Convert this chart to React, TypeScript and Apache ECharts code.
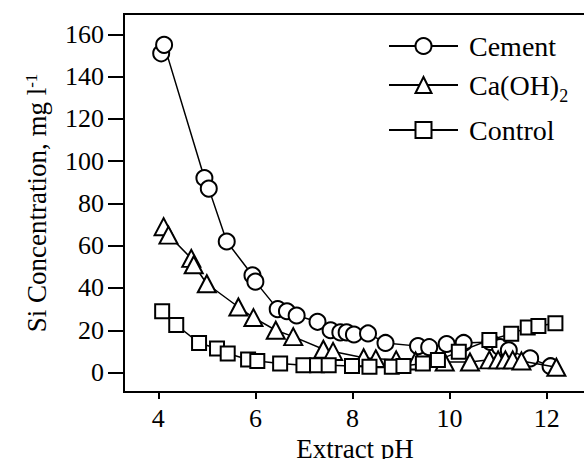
import React, { useEffect, useRef } from "react";
import * as echarts from "echarts";

// Extract pH and Si concentration (mg l-1) for each treatment
const cementPH = [4.06, 4.12, 4.95, 5.04, 5.41, 5.94, 6.0, 6.46, 6.65, 6.85, 7.28, 7.55, 7.75, 7.88, 8.03, 8.32, 8.68, 9.35, 9.58, 9.94, 10.29, 10.84, 11.04, 11.22, 11.66, 12.08];
const cementSi = [151, 155, 92, 87, 62, 46, 43, 30, 29, 27, 24, 20, 19, 19, 18, 18.5, 14, 12.5, 12, 13.5, 14, 14.5, 12, 10.5, 6.7, 3];

const caohPH = [4.11, 4.21, 4.68, 4.73, 5.0, 5.65, 5.96, 6.42, 6.78, 7.4, 7.6, 8.23, 8.48, 8.9, 9.3, 9.9, 10.42, 10.82, 11.0, 11.15, 11.3, 11.48, 12.2];
const caohSi = [69, 65, 54, 51, 42, 31, 26, 20, 17, 11, 10, 7, 6.5, 6, 5.5, 5, 5, 6, 6, 6, 6, 5.5, 2.5];

const controlPH = [4.08, 4.37, 4.84, 5.21, 5.43, 5.85, 6.04, 6.51, 6.99, 7.27, 7.51, 7.99, 8.35, 8.81, 9.05, 9.45, 9.76, 10.19, 10.82, 11.27, 11.61, 11.83, 12.18];
const controlSi = [29, 22.5, 14, 11.4, 9, 6.2, 5.5, 4.3, 3.5, 3.5, 3.5, 3.1, 2.7, 2.7, 3.1, 4.3, 5.9, 9.8, 15.4, 18.3, 21.3, 22, 23.3];

const xTicks = [4, 6, 8, 10, 12];
const yTicks = [0, 20, 40, 60, 80, 100, 120, 140, 160];

const FONT = "Liberation Serif, Times New Roman, serif";

const pairs = (xs: number[], ys: number[]) => xs.map((x, i) => [x, ys[i]]);

const tickRich = { t: { fontFamily: FONT, fontSize: 26, color: "#000" } };

const seriesBase = {
  type: "line" as const,
  lineStyle: { color: "#000", width: 1.5 },
  itemStyle: { color: "#fff", borderColor: "#000", borderWidth: 2 },
  emphasis: { disabled: true },
  silent: true,
};

export default function App() {
  const ref = useRef<HTMLDivElement>(null);

  useEffect(() => {
    if (!ref.current) return;
    const chart = echarts.init(ref.current, undefined, { renderer: "svg" });
    chart.setOption({
      animation: false,
      backgroundColor: "#fff",
      textStyle: { fontFamily: FONT, color: "#000" },
      grid: {
        left: 124,
        top: 14,
        right: -2,
        bottom: 67,
        show: true,
        borderColor: "#000",
        borderWidth: 2,
        outerBoundsMode: "none",
      },
      legend: {
        left: 388,
        top: 32,
        padding: 0,
        orient: "vertical",
        itemWidth: 69,
        itemHeight: 20,
        itemGap: 11,
        selectedMode: false,
        textStyle: {
          fontFamily: FONT,
          fontSize: 28,
          color: "#000",
          padding: [0, 0, 0, 6],
          rich: {
            a: { fontFamily: FONT, fontSize: 28, color: "#000" },
            s: { fontFamily: FONT, fontSize: 18, color: "#000", verticalAlign: "bottom", padding: [0, 0, -6, 0] },
          },
        },
        formatter: (name: string) => (name === "Ca(OH)2" ? "{a|Ca(OH)}{s|2}" : `{a|${name}}`),
        data: ["Cement", "Ca(OH)2", "Control"],
      },
      xAxis: {
        type: "value",
        min: 3.294,
        max: 12.81,
        name: "{a|Extract pH}",
        nameLocation: "middle",
        nameGap: 37,
        nameTextStyle: {
          fontFamily: FONT,
          fontSize: 27,
          color: "#000",
          rich: { a: { fontFamily: FONT, fontSize: 27, color: "#000" } },
        },
        axisLine: { onZero: false, lineStyle: { color: "#000", width: 2 } },
        axisTick: { customValues: xTicks, length: 7, lineStyle: { color: "#000", width: 2 } },
        axisLabel: {
          customValues: xTicks,
          margin: 13,
          fontFamily: FONT,
          fontSize: 26,
          color: "#000",
          formatter: (v: number) => `{t|${v}}`,
          rich: tickRich,
        },
        splitLine: { show: false },
      },
      yAxis: {
        type: "value",
        min: -9.2,
        max: 169.6,
        name: "{a|Si Concentration, mg l}{sup|-1}",
        nameLocation: "middle",
        nameGap: 74,
        nameTextStyle: {
          fontFamily: FONT,
          fontSize: 27,
          color: "#000",
          rich: {
            a: { fontFamily: FONT, fontSize: 27, color: "#000" },
            sup: { fontFamily: FONT, fontSize: 17, color: "#000", verticalAlign: "top", padding: [0, 0, 8, 0] },
          },
        },
        axisLine: { onZero: false, lineStyle: { color: "#000", width: 2 } },
        axisTick: { customValues: yTicks, length: 16, lineStyle: { color: "#000", width: 2 } },
        axisLabel: {
          customValues: yTicks,
          margin: 20,
          fontFamily: FONT,
          fontSize: 26,
          color: "#000",
          formatter: (v: number) => `{t|${v}}`,
          rich: tickRich,
        },
        splitLine: { show: false },
      },
      series: [
        { ...seriesBase, name: "Cement", symbol: "circle", symbolSize: 16, data: pairs(cementPH, cementSi), z: 2 },
        { ...seriesBase, name: "Ca(OH)2", symbol: "triangle", symbolSize: [18, 17], data: pairs(caohPH, caohSi), z: 3 },
        { ...seriesBase, name: "Control", symbol: "rect", symbolSize: 14, data: pairs(controlPH, controlSi), z: 4 },
      ],
    });
    return () => chart.dispose();
  }, []);

  return (
    <div
      ref={ref}
      style={{ position: "fixed", left: 0, top: 0, width: 584, height: 459 }}
    />
  );
}
